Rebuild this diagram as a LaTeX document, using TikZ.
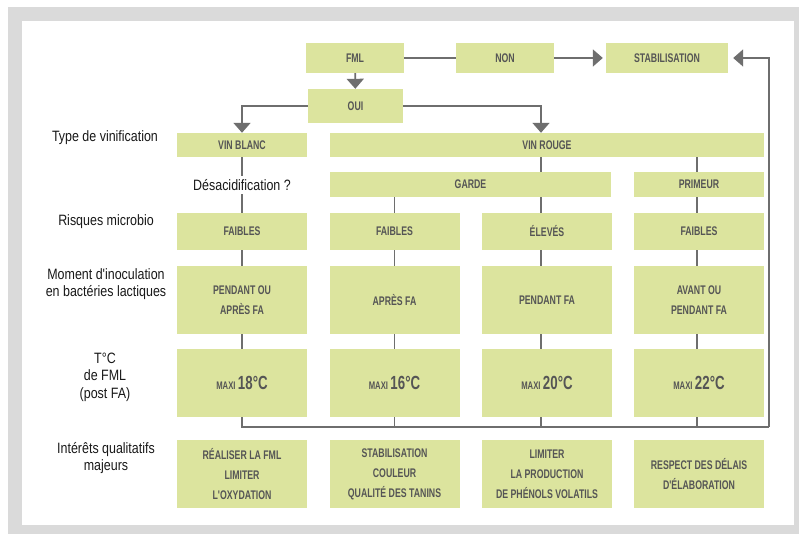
\documentclass[tikz,border=0pt]{standalone}
\usepackage{fontspec}
\usepackage{tikz}
\usetikzlibrary{calc, arrows.meta, positioning}
\newfontfamily\lblfont{Liberation Sans}[FakeStretch=0.83]
\newfontfamily\boxfont{Liberation Sans}[FakeStretch=0.7]
\definecolor{boxgreen}{HTML}{DCE49E}
\definecolor{boxtext}{HTML}{555555}
\definecolor{linegray}{HTML}{6E6E6E}
\definecolor{framegray}{HTML}{DADADA}
\newcommand{\maxi}[1]{{\fontsize{11}{12}\selectfont MAXI}\ {\fontsize{19}{20}\selectfont #1}}

\begin{document}
\begin{tikzpicture}[x=1pt,y=-1pt,
  box/.style={fill=boxgreen,inner sep=0pt,text=boxtext,align=center,
    font=\boxfont\bfseries\fontsize{12.5}{20}\selectfont},
  lbl/.style={align=center,text=black!90,font=\lblfont\fontsize{15}{17.5}\selectfont},
  link/.style={draw=linegray,line width=1.8pt},
  arr/.style={link,-{Triangle[width=17pt,length=10pt]}}]
\useasboundingbox (0,0) rectangle (799,534);
\fill[framegray] (8,7) rectangle (806,541);
\fill[white] (22,21) rectangle (794,525);

\node[box,minimum width=98,minimum height=30] (fml) at (355,58) {FML};
\node[box,minimum width=98,minimum height=30] (non) at (505,58) {NON};
\node[box,minimum width=122,minimum height=30] (stab) at (667,58) {STABILISATION};
\node[box,minimum width=95,minimum height=34] (oui) at (355.5,106) {OUI};
\node[box,minimum width=130,minimum height=24] (blanc) at (242,145) {VIN BLANC};
\node[box,minimum width=434,minimum height=24] (rouge) at (547,145) {VIN ROUGE};
\node[box,minimum width=281,minimum height=25] (garde) at (470.5,184.5) {GARDE};
\node[box,minimum width=130,minimum height=25] (primeur) at (699,184.5) {PRIMEUR};

\foreach \n/\x/\r/\m/\t/\i in {
  1/242/FAIBLES/{PENDANT OU\\APRÈS FA}/18°C/{RÉALISER LA FML\\LIMITER\\L'OXYDATION},
  2/394.5/FAIBLES/APRÈS FA/16°C/{STABILISATION\\COULEUR\\QUALITÉ DES TANINS},
  3/547/ÉLEVÉS/PENDANT FA/20°C/{LIMITER\\LA PRODUCTION\\DE PHÉNOLS VOLATILS},
  4/699/FAIBLES/{AVANT OU\\PENDANT FA}/22°C/{RESPECT DES DÉLAIS\\D'ÉLABORATION}} {
  \node[box,minimum width=130,minimum height=37] (risk\n) at (\x,231.5) {\r};
  \node[box,minimum width=130,minimum height=68] (mom\n) at (\x,300) {\m};
  \node[box,minimum width=130,minimum height=68] (temp\n) at (\x,383) {\maxi{\t}};
  \node[box,minimum width=130,minimum height=68] (int\n) at (\x,474) {\i};
}

\node[lbl] (ltype) at (105,138) {Type de vinification};
\node[lbl] (desac) at (242,185) {Désacidification ?};
\node[lbl] (lrisk) at (106,222) {Risques microbio};
\node[lbl] (lmom) at (106,284) {Moment d'inoculation\\en bactéries lactiques};
\node[lbl] (ltemp) at (105,377) {T°C\\de FML\\(post FA)};
\node[lbl] (lint) at (106,458) {Intérêts qualitatifs\\majeurs};

\coordinate (c3) at (541,0);
\coordinate (c4) at (697,0);
\coordinate (corner) at (769,427);

\draw[link] (fml) -- (non);
\draw[arr,shorten >=3pt] (non) -- (stab);
\draw[arr] (fml) -- (oui);
\draw[arr] (oui.west) -| (blanc.north);
\draw[arr] (oui.east) -| (rouge.north -| c3);

\draw[link] (blanc) -- (desac);
\draw[link] (desac) -- (risk1);
\draw[link] (garde.south -| risk2.north) -- (risk2);
\draw[link] (rouge.south -| c3) -- (garde.north -| c3);
\draw[link] (garde.south -| c3) -- (risk3.north -| c3);
\draw[link] (rouge.south -| c4) -- (primeur.north -| c4);
\draw[link] (primeur.south -| c4) -- (risk4.north -| c4);
\foreach \n in {1,2} {
  \draw[link] (risk\n) -- (mom\n);
  \draw[link] (mom\n) -- (temp\n);
}
\draw[link] (risk3.south -| c3) -- (mom3.north -| c3);
\draw[link] (mom3.south -| c3) -- (temp3.north -| c3);
\draw[link] (risk4.south -| c4) -- (mom4.north -| c4);
\draw[link] (mom4.south -| c4) -- (temp4.north -| c4);

\draw[link] (temp1.south) |- (corner);
\draw[link] (temp2.south) -- (temp2.south |- corner);
\draw[link] (temp3.south -| c3) -- (corner -| c3);
\draw[link] (temp4.south -| c4) -- (corner -| c4);
\draw[arr,shorten >=5pt] (corner) |- (stab.east);
\end{tikzpicture}
\end{document}
